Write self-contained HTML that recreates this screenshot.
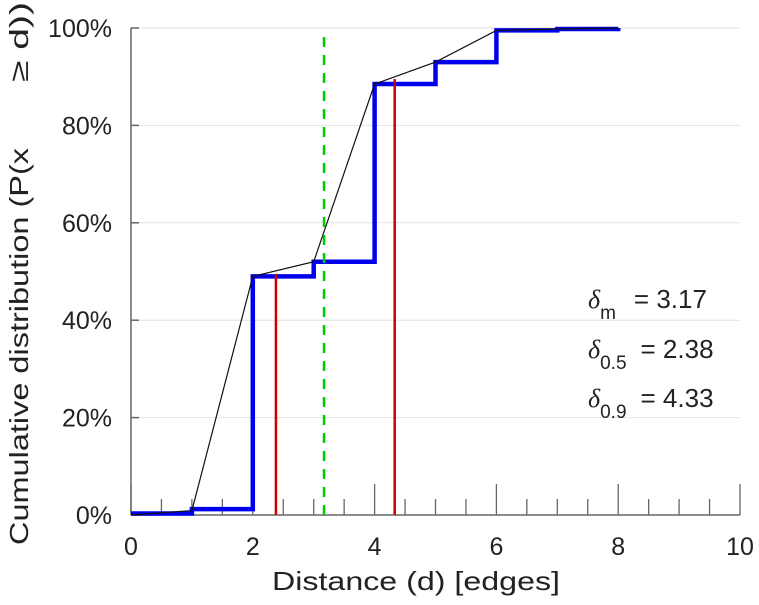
<!DOCTYPE html>
<html><head><meta charset="utf-8"><style>
html,body{margin:0;padding:0;background:#fff;}
svg text{font-family:"Liberation Sans",sans-serif;fill:#222;}
</style></head><body>
<svg id="chart" width="759" height="600" viewBox="0 0 759 600" xmlns="http://www.w3.org/2000/svg">
<g id="grid"></g>
<g id="axes"></g>
<g id="marks"></g>
<text x="272" y="590" font-size="26" textLength="288" lengthAdjust="spacingAndGlyphs">Distance (d) [edges]</text>
<text transform="translate(28,545) rotate(-90)" font-size="26" textLength="397" lengthAdjust="spacingAndGlyphs">Cumulative distribution (P(x</text>
<text transform="translate(28,82) rotate(-90)" font-size="26" textLength="80" lengthAdjust="spacingAndGlyphs">≥ d))</text>
<g font-size="26">
<text x="588" y="308"><tspan font-style="italic" font-family="Liberation Serif">δ</tspan><tspan dy="11" font-size="19">m</tspan><tspan dy="-11" dx="18">= 3.17</tspan></text>
<text x="588" y="358"><tspan font-style="italic" font-family="Liberation Serif">δ</tspan><tspan dy="11" font-size="19">0.5</tspan><tspan dy="-11" dx="14">= 2.38</tspan></text>
<text x="588" y="407"><tspan font-style="italic" font-family="Liberation Serif">δ</tspan><tspan dy="11" font-size="19">0.9</tspan><tspan dy="-11" dx="14">= 4.33</tspan></text>
</g>
</svg>
<script>
const xs = [0,1,2,3,4,5,6,7,8];
const cdf = [0.3,1.2,49,52,88.5,93,99.5,99.8,100];
const lineVals = [0,0.9,49,52,88.5,93,99.5,99.8,100];
const xTicks = [0,2,4,6,8,10];
const yTicks = [0,20,40,60,80,100];
const median = 2.38, p90 = 4.33, meanD = 3.17;
const medianY = 49.5, p90Y = 89.5;

const X0=131,X1=740,Y0=515,Y1=28;
const sx=v=>X0+(v/10)*(X1-X0);
const sy=v=>Y0-(v/100)*(Y0-Y1);
const NS="http://www.w3.org/2000/svg";
function mk(parent,tag,attrs){const e=document.createElementNS(NS,tag);for(const k in attrs)e.setAttribute(k,attrs[k]);document.getElementById(parent).appendChild(e);return e;}

yTicks.forEach(t=>{
  if(t>0){const g=mk('grid','line',{x1:X0,x2:X1,y1:sy(t),y2:sy(t),stroke:'#e2e2e2','stroke-width':1});
  
  }
  const tk=mk('axes','line',{x1:X0,x2:X0+8,y1:sy(t),y2:sy(t),stroke:'#666','stroke-width':1.5});
  
  
  const s=t+'%';
  const tx=mk('axes','text',{x:X0-19,y:sy(t)+9,'font-size':25,'text-anchor':'end'});tx.textContent=s;
  
  
});
const la=mk('axes','line',{x1:X0,x2:X0,y1:Y1,y2:Y0,stroke:'#666','stroke-width':1.5});


const ba=mk('axes','line',{x1:X0,x2:X1,y1:Y0,y2:Y0,stroke:'#666','stroke-width':1.5});


for(let v=0;v<=10.001;v+=0.5){
  const major=Math.abs(v/2-Math.round(v/2))<1e-6;
  const t=mk('axes','line',{x1:sx(v),x2:sx(v),y1:Y0,y2:Y0-(major?31:16),stroke:'#666','stroke-width':1.3});
  
  
}
xTicks.forEach(t=>{
  const tx=mk('axes','text',{x:sx(t),y:555,'font-size':25,'text-anchor':'middle'});tx.textContent=t;
  
  
});

let d='';
xs.forEach((x,i)=>{
  if(i===xs.length-1)return;
  const y=sy(cdf[i]);
  d+=(i===0?'M':'L')+sx(x)+','+y+' L'+sx(xs[i+1])+','+y+' ';
  d+='L'+sx(xs[i+1])+','+sy(cdf[i+1])+' ';
});
const st=mk('marks','path',{d:d,fill:'none',stroke:'#0000ee','stroke-width':4.5});


const lp=mk('marks','polyline',{points:xs.map((x,i)=>sx(x)+','+sy(lineVals[i])).join(' '),fill:'none',stroke:'#111','stroke-width':1.2});


const r1=mk('marks','line',{x1:sx(median),x2:sx(median),y1:Y0,y2:sy(medianY),stroke:'#d00000','stroke-width':2.5});


const r2=mk('marks','line',{x1:sx(p90),x2:sx(p90),y1:Y0,y2:sy(p90Y),stroke:'#d00000','stroke-width':2.5});


const g=mk('marks','line',{x1:sx(meanD),x2:sx(meanD),y1:Y0,y2:Y1+4,stroke:'#00cc00','stroke-width':2.5,'stroke-dasharray':'10,8'});


</script>
</body></html>
